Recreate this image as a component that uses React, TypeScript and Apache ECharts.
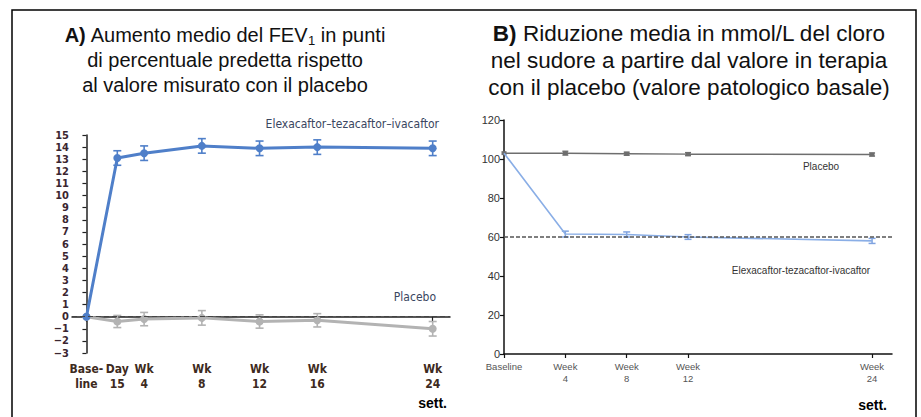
import React, { useEffect, useRef } from "react";
import * as echarts from "echarts";

// ---- Panel A data (FEV1, % predicted points) ----
const leftWeeks = [0, 2.14, 4, 8, 12, 16, 24];
const leftTickLabels = ["Base-\nline", "Day\n15", "Wk\n4", "Wk\n8", "Wk\n12", "Wk\n16", "Wk\n24"];
const etiFev = [0, 13.1, 13.5, 14.1, 13.9, 14.0, 13.9];
const etiFevErr = [0, 0.6, 0.6, 0.6, 0.6, 0.6, 0.6];
const placeboFev = [0, -0.4, -0.2, -0.1, -0.4, -0.3, -1.0];
const placeboFevErr = [0, 0.5, 0.55, 0.6, 0.55, 0.55, 0.6];

// ---- Panel B data (sweat chloride, mmol/L) ----
const rightWeeks = [0, 4, 8, 12, 24];
const rightTickLabels = ["Baseline", "Week\n4", "Week\n8", "Week\n12", "Week\n24"];
const placeboCl = [103, 103, 102.7, 102.5, 102.3];
const placeboClErr = [0, 1, 0.8, 0.8, 0.8];
const etiCl = [103, 61.5, 61.3, 60.0, 58.0];
const etiClErr = [0, 1.5, 1.3, 1.2, 1.3];

const pairs = (xs: number[], ys: number[]) => xs.map((x, i) => [x, ys[i]]);
const errRows = (xs: number[], ys: number[], es: number[]) =>
  xs.map((x, i) => [x, ys[i] - es[i], ys[i] + es[i]]).filter((_, i) => es[i] > 0);

const labelFor = (xs: number[], labels: string[]) => (v: number) => {
  let best = 0;
  xs.forEach((x, i) => {
    if (Math.abs(x - v) < Math.abs(xs[best] - v)) best = i;
  });
  return labels[best];
};

const errSeries = (xAxisIndex: number, data: number[][], color: string, capW: number, lw: number) => ({
  type: "custom",
  xAxisIndex,
  yAxisIndex: xAxisIndex,
  z: 3,
  encode: { x: 0, y: [1, 2] },
  data,
  renderItem: (params: any, api: any) => {
    const x = api.value(0);
    const p1 = api.coord([x, api.value(1)]);
    const p2 = api.coord([x, api.value(2)]);
    const st = { stroke: color, lineWidth: lw };
    return {
      type: "group",
      children: [
        { type: "line", shape: { x1: p1[0], y1: p1[1], x2: p2[0], y2: p2[1] }, style: st },
        { type: "line", shape: { x1: p1[0] - capW, y1: p1[1], x2: p1[0] + capW, y2: p1[1] }, style: st },
        { type: "line", shape: { x1: p2[0] - capW, y1: p2[1], x2: p2[0] + capW, y2: p2[1] }, style: st },
      ],
    };
  },
});

const NARROW = "'Liberation Sans Narrow', 'DejaVu Sans Condensed', 'Liberation Sans', sans-serif";
const ARIAL = "'Liberation Sans', Arial, Helvetica, sans-serif";

export default function App() {
  const ref = useRef<HTMLDivElement>(null);
  useEffect(() => {
    if (!ref.current) return;
    const chart = echarts.init(ref.current, undefined, { renderer: "svg" });
    const leftBlue = "#4f7fc9";
    const leftGray = "#b3b3b3";
    const option: any = {
      animation: false,
      backgroundColor: "#ffffff",
      grid: [
        { left: 72, top: 135, width: 378, height: 218 },
        { left: 504, top: 120, width: 388, height: 234 },
      ],
      xAxis: [
        {
          type: "value",
          gridIndex: 0,
          min: -1,
          max: 25.2,
          splitLine: { show: false },
          axisLine: { lineStyle: { color: "#222", width: 1.5 } },
          axisTick: { show: true, length: 5, customValues: leftWeeks, lineStyle: { color: "#222", width: 1.2 } },
          axisLabel: {
            customValues: leftWeeks,
            formatter: labelFor(leftWeeks, leftTickLabels),
            fontFamily: NARROW,
            fontWeight: "bold",
            fontSize: 12,
            lineHeight: 15,
            color: "#3d2a20",
            margin: 8,
          },
        },
        {
          type: "value",
          gridIndex: 1,
          min: 0,
          max: 25.3,
          splitLine: { show: false },
          axisLine: { lineStyle: { color: "#111", width: 1.5 } },
          axisTick: { show: true, length: 4, customValues: rightWeeks, lineStyle: { color: "#111", width: 1.2 } },
          axisLabel: {
            customValues: rightWeeks,
            formatter: labelFor(rightWeeks, rightTickLabels),
            fontFamily: ARIAL,
            fontSize: 9.5,
            lineHeight: 12,
            color: "#555",
            margin: 6,
          },
        },
      ],
      yAxis: [
        {
          type: "value",
          gridIndex: 0,
          min: -3,
          max: 15,
          interval: 1,
          splitLine: { show: false },
          axisLine: { show: true, lineStyle: { color: "#222", width: 1.5 } },
          axisTick: { show: true, length: 4, lineStyle: { color: "#222", width: 1.2 } },
          axisLabel: {
            fontFamily: NARROW,
            fontWeight: "bold",
            fontSize: 11,
            lineHeight: 11,
            color: "#3b2630",
            margin: 3,
            formatter: (v: number) => (v < 0 ? "\u2212" + Math.abs(v) : String(v)),
          },
        },
        {
          type: "value",
          gridIndex: 1,
          min: 0,
          max: 120,
          interval: 20,
          splitLine: { show: false },
          axisLine: { show: true, lineStyle: { color: "#111", width: 1.5 } },
          axisTick: { show: true, length: 4, lineStyle: { color: "#111", width: 1.2 } },
          axisLabel: { fontFamily: ARIAL, fontSize: 11, color: "#333", margin: 4 },
        },
      ],
      series: [
        {
          type: "line",
          xAxisIndex: 0,
          yAxisIndex: 0,
          data: pairs(leftWeeks, placeboFev),
          z: 2,
          symbol: "circle",
          symbolSize: 8,
          lineStyle: { color: leftGray, width: 3 },
          itemStyle: { color: leftGray },
          markLine: {
            silent: true,
            symbol: "none",
            label: { show: false },
            lineStyle: { color: "#444", type: [5, 3], width: 1.2 },
            data: [{ yAxis: 0 }],
          },
        },
        errSeries(0, errRows(leftWeeks, placeboFev, placeboFevErr), leftGray, 4, 1.6),
        {
          type: "line",
          xAxisIndex: 0,
          yAxisIndex: 0,
          data: pairs(leftWeeks, etiFev),
          z: 4,
          symbol: "circle",
          symbolSize: 8,
          lineStyle: { color: leftBlue, width: 3 },
          itemStyle: { color: leftBlue },
        },
        errSeries(0, errRows(leftWeeks, etiFev, etiFevErr), leftBlue, 4, 1.6),
        {
          type: "line",
          xAxisIndex: 1,
          yAxisIndex: 1,
          data: pairs(rightWeeks, placeboCl),
          symbol: "rect",
          symbolSize: [5, 4],
          lineStyle: { color: "#6e6e6e", width: 1.5 },
          itemStyle: { color: "#6e6e6e" },
          markLine: {
            silent: true,
            symbol: "none",
            label: { show: false },
            lineStyle: { color: "#555", type: [4, 2], width: 1.6 },
            data: [{ yAxis: 60 }],
          },
        },
        errSeries(1, errRows(rightWeeks, placeboCl, placeboClErr), "#6e6e6e", 3, 1.3),
        {
          type: "line",
          xAxisIndex: 1,
          yAxisIndex: 1,
          data: pairs(rightWeeks, etiCl),
          z: 4,
          symbol: "none",
          lineStyle: { color: "#8aaee6", width: 1.6 },
          itemStyle: { color: "#8aaee6" },
        },
        errSeries(1, errRows(rightWeeks, etiCl, etiClErr), "#7fa3e0", 3.5, 1.5),
      ],
      graphic: [
        // frame
        { type: "polyline", shape: { points: [[12, 417], [12, 10], [916, 10], [916, 417]] }, style: { stroke: "#000", lineWidth: 1.5, fill: "none" } },
        // titles
        {
          type: "text",
          x: 225,
          y: 22,
          style: {
            text: "{b|A)} Aumento medio del FEV{s|1} in punti\ndi percentuale predetta rispetto\nal valore misurato con il placebo",
            align: "center",
            verticalAlign: "top",
            fontFamily: ARIAL,
            fontSize: 20,
            lineHeight: 25,
            fill: "#111",
            rich: {
              b: { fontWeight: "bold", fontSize: 20, fontFamily: ARIAL, lineHeight: 25, fill: "#111" },
              s: { fontSize: 13, fontFamily: ARIAL, lineHeight: 16, verticalAlign: "bottom", fill: "#111" },
            },
          },
        },
        {
          type: "text",
          x: 689,
          y: 20,
          style: {
            text: "{b|B)} Riduzione media in mmol/L del cloro\nnel sudore a partire dal valore in terapia\ncon il placebo (valore patologico basale)",
            align: "center",
            verticalAlign: "top",
            fontFamily: ARIAL,
            fontSize: 22.5,
            lineHeight: 27,
            fill: "#111",
            rich: {
              b: { fontWeight: "bold", fontSize: 22.5, fontFamily: ARIAL, lineHeight: 27, fill: "#111" },
            },
          },
        },
        // series annotations
        { type: "text", x: 439, y: 124, style: { text: "Elexacaftor\u2013tezacaftor\u2013ivacaftor", align: "right", verticalAlign: "middle", fontFamily: NARROW, fontSize: 12, fill: "#3a4660" } },
        { type: "text", x: 436, y: 297, style: { text: "Placebo", align: "right", verticalAlign: "middle", fontFamily: NARROW, fontSize: 12, fill: "#3a4660" } },
        { type: "text", x: 821, y: 166, style: { text: "Placebo", align: "center", verticalAlign: "middle", fontFamily: ARIAL, fontSize: 10, fill: "#333" } },
        { type: "text", x: 801, y: 270, style: { text: "Elexacaftor-tezacaftor-ivacaftor", align: "center", verticalAlign: "middle", fontFamily: ARIAL, fontSize: 10, fill: "#333" } },
        // unit labels
        { type: "text", x: 447, y: 403, style: { text: "sett.", align: "right", verticalAlign: "middle", fontFamily: ARIAL, fontWeight: "bold", fontSize: 14, fill: "#000" } },
        { type: "text", x: 887, y: 405, style: { text: "sett.", align: "right", verticalAlign: "middle", fontFamily: ARIAL, fontWeight: "bold", fontSize: 14, fill: "#000" } },
      ],
    };
    chart.setOption(option);
    return () => chart.dispose();
  }, []);
  return (
    <div
      ref={ref}
      style={{ position: "fixed", left: 0, top: 0, width: 921, height: 417, background: "#fff" }}
    />
  );
}
